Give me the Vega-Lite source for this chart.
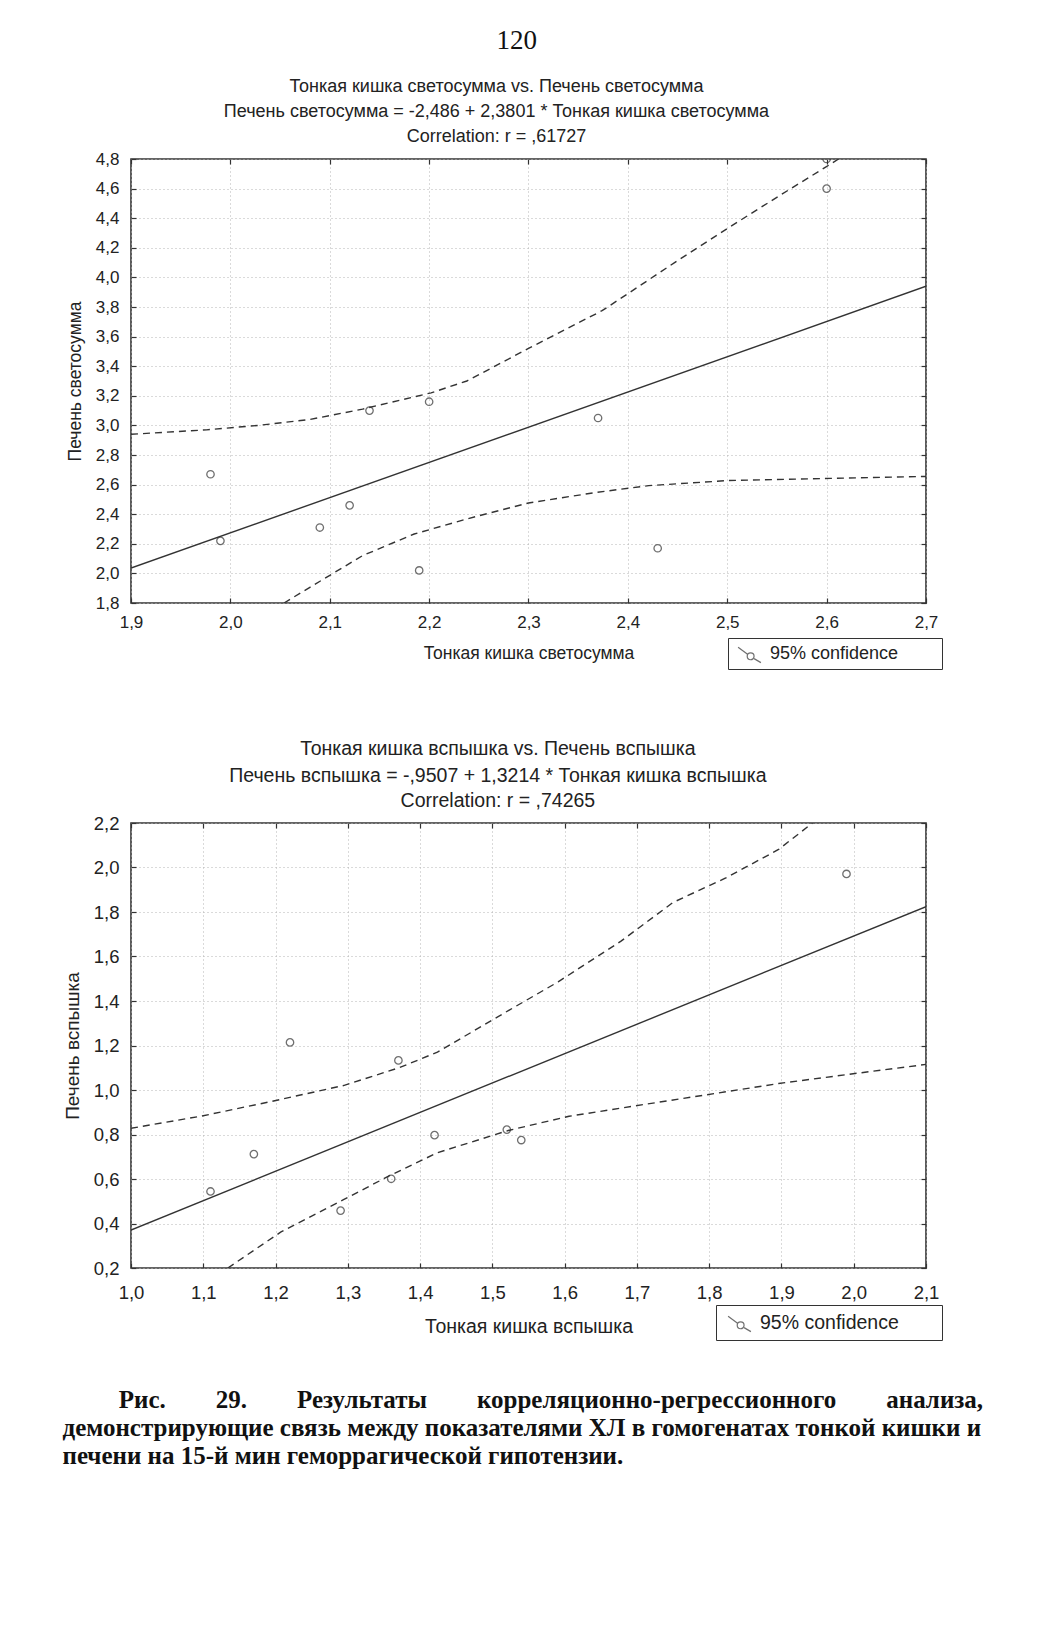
{
  "$schema": "https://vega.github.io/schema/vega-lite/v6.json",
  "background": "white",
  "padding": {"left": 62, "top": 26, "right": 10, "bottom": 10},
  "datasets": {
    "pts1": [
      {"x": 1.98, "y": 2.67, "series": "95% confidence"},
      {"x": 1.99, "y": 2.22, "series": "95% confidence"},
      {"x": 2.09, "y": 2.31, "series": "95% confidence"},
      {"x": 2.12, "y": 2.46, "series": "95% confidence"},
      {"x": 2.14, "y": 3.10, "series": "95% confidence"},
      {"x": 2.19, "y": 2.02, "series": "95% confidence"},
      {"x": 2.20, "y": 3.16, "series": "95% confidence"},
      {"x": 2.37, "y": 3.05, "series": "95% confidence"},
      {"x": 2.43, "y": 2.17, "series": "95% confidence"},
      {"x": 2.60, "y": 4.60, "series": "95% confidence"},
      {"x": 2.60, "y": 4.80, "series": "95% confidence"}
    ],
    "line1": [
      {"x": 1.9, "y": 2.036},
      {"x": 2.7, "y": 3.940}
    ],
    "band1": [
      {"band": "upper", "x": 1.9, "y": 2.94},
      {"band": "upper", "x": 1.976, "y": 2.97},
      {"band": "upper", "x": 2.028, "y": 3.0},
      {"band": "upper", "x": 2.08, "y": 3.04},
      {"band": "upper", "x": 2.133, "y": 3.11},
      {"band": "upper", "x": 2.202, "y": 3.22},
      {"band": "upper", "x": 2.238, "y": 3.30},
      {"band": "upper", "x": 2.30, "y": 3.52},
      {"band": "upper", "x": 2.374, "y": 3.775},
      {"band": "upper", "x": 2.40, "y": 3.89},
      {"band": "upper", "x": 2.447, "y": 4.10},
      {"band": "upper", "x": 2.50, "y": 4.33},
      {"band": "upper", "x": 2.552, "y": 4.55},
      {"band": "upper", "x": 2.599, "y": 4.745},
      {"band": "upper", "x": 2.612, "y": 4.80},
      {"band": "lower", "x": 2.054, "y": 1.80},
      {"band": "lower", "x": 2.08, "y": 1.906},
      {"band": "lower", "x": 2.133, "y": 2.12},
      {"band": "lower", "x": 2.185, "y": 2.266},
      {"band": "lower", "x": 2.238, "y": 2.368},
      {"band": "lower", "x": 2.30, "y": 2.476},
      {"band": "lower", "x": 2.369, "y": 2.548},
      {"band": "lower", "x": 2.421, "y": 2.593},
      {"band": "lower", "x": 2.50, "y": 2.627},
      {"band": "lower", "x": 2.604, "y": 2.642},
      {"band": "lower", "x": 2.70, "y": 2.655}
    ],
    "pts2": [
      {"x": 1.11, "y": 0.544, "series": "95% confidence"},
      {"x": 1.17, "y": 0.712, "series": "95% confidence"},
      {"x": 1.22, "y": 1.214, "series": "95% confidence"},
      {"x": 1.29, "y": 0.458, "series": "95% confidence"},
      {"x": 1.36, "y": 0.601, "series": "95% confidence"},
      {"x": 1.37, "y": 1.133, "series": "95% confidence"},
      {"x": 1.42, "y": 0.797, "series": "95% confidence"},
      {"x": 1.52, "y": 0.822, "series": "95% confidence"},
      {"x": 1.54, "y": 0.775, "series": "95% confidence"},
      {"x": 1.99, "y": 1.971, "series": "95% confidence"}
    ],
    "line2": [
      {"x": 1.0, "y": 0.3707},
      {"x": 2.1, "y": 1.824}
    ],
    "band2": [
      {"band": "upper", "x": 1.0, "y": 0.828},
      {"band": "upper", "x": 1.098, "y": 0.883},
      {"band": "upper", "x": 1.192, "y": 0.947},
      {"band": "upper", "x": 1.294, "y": 1.020},
      {"band": "upper", "x": 1.371, "y": 1.10},
      {"band": "upper", "x": 1.424, "y": 1.17},
      {"band": "upper", "x": 1.518, "y": 1.349},
      {"band": "upper", "x": 1.591, "y": 1.486},
      {"band": "upper", "x": 1.678, "y": 1.669},
      {"band": "upper", "x": 1.75, "y": 1.843},
      {"band": "upper", "x": 1.823, "y": 1.953},
      {"band": "upper", "x": 1.896, "y": 2.081},
      {"band": "upper", "x": 1.943, "y": 2.2},
      {"band": "lower", "x": 1.134, "y": 0.2},
      {"band": "lower", "x": 1.207, "y": 0.361},
      {"band": "lower", "x": 1.294, "y": 0.507},
      {"band": "lower", "x": 1.359, "y": 0.617},
      {"band": "lower", "x": 1.424, "y": 0.718},
      {"band": "lower", "x": 1.522, "y": 0.818},
      {"band": "lower", "x": 1.606, "y": 0.882},
      {"band": "lower", "x": 1.714, "y": 0.937},
      {"band": "lower", "x": 1.823, "y": 0.992},
      {"band": "lower", "x": 1.896, "y": 1.029},
      {"band": "lower", "x": 2.004, "y": 1.075},
      {"band": "lower", "x": 2.1, "y": 1.115}
    ]
  },
  "config": {
    "font": "Liberation Sans",
    "view": {"stroke": "#333", "strokeWidth": 1.6},
    "axis": {
      "domain": false,
      "grid": true,
      "gridColor": "#b4b4b4",
      "gridDash": [1, 3],
      "gridWidth": 1,
      "tickColor": "#333",
      "tickSize": -5,
      "tickWidth": 1.2,
      "labelFlush": false,
      "labelFont": "Liberation Sans",
      "labelFontSize": 17,
      "labelColor": "#222",
      "titleFont": "Liberation Sans",
      "titleFontSize": 17.5,
      "titleFontWeight": "normal",
      "titleColor": "#222",
      "format": ".1f",
      "labelExpr": "replace(datum.label, '.', ',')"
    },
    "axisX": {"labelPadding": 16, "titlePadding": 14},
    "axisY": {"labelPadding": 17, "titlePadding": 11},
    "legend": {
      "labelFont": "Liberation Sans",
      "labelFontSize": 18,
      "labelColor": "#222",
      "labelLimit": 400,
      "strokeColor": "#333",
      "fillColor": "white",
      "symbolType": "M-1,-0.55L-0.2,0.05M0.4,0.45L1,0.8M-0.2,0.25A0.3,0.3 0 1,0 0.4,0.25A0.3,0.3 0 1,0 -0.2,0.25",
      "symbolSize": 520,
      "symbolStrokeWidth": 1.2,
      "symbolFillColor": "transparent",
      "symbolStrokeColor": "#333",
      "symbolOffset": 6,
      "labelOffset": 8
    }
  },
  "title": {
    "text": [
      "\u200b\u00a0\u00a0\u00a0\u00a0\u00a0\u00a0\u00a0\u00a0\u00a0Рис.\u00a0\u00a0\u00a0\u00a0\u00a0\u00a0\u00a0\u00a029.\u00a0\u00a0\u00a0\u00a0\u00a0\u00a0\u00a0\u00a0Результаты\u00a0\u00a0\u00a0\u00a0\u00a0\u00a0\u00a0\u00a0корреляционно-регрессионного\u00a0\u00a0\u00a0\u00a0\u00a0\u00a0\u00a0\u00a0анализа,",
      "демонстрирующие связь между показателями ХЛ в гомогенатах тонкой кишки и",
      "печени на 15-й мин геморрагической гипотензии."
    ],
    "orient": "bottom",
    "anchor": "start",
    "frame": "bounds",
    "font": "Liberation Serif",
    "fontSize": 25,
    "fontWeight": "bold",
    "lineHeight": 28,
    "offset": 47,
    "color": "#111"
  },
  "spacing": 67,
  "resolve": {"scale": {"stroke": "independent"}, "legend": {"stroke": "independent"}},
  "vconcat": [
    {
      "width": 795,
      "height": 444,
      "title": {
        "text": "\u200b\u00a0\u00a0\u00a0\u00a0\u00a0\u00a0120",
        "subtitle": [
          "Тонкая кишка светосумма vs. Печень светосумма",
          "Печень светосумма = -2,486 + 2,3801 * Тонкая кишка светосумма",
          "Correlation: r = ,61727"
        ],
        "font": "Liberation Serif",
        "fontSize": 27,
        "fontWeight": "normal",
        "color": "#111",
        "subtitleFont": "Liberation Sans",
        "subtitleFontSize": 18,
        "subtitleColor": "#222",
        "subtitleLineHeight": 25,
        "subtitlePadding": 23,
        "anchor": "middle",
        "frame": "bounds",
        "dx": -8,
        "offset": 3
      },
      "resolve": {"axis": {"x": "independent", "y": "independent"}},
      "layer": [
        {
          "data": {"name": "band1"},
          "mark": {"type": "line", "color": "#333", "strokeWidth": 1.4, "strokeDash": [7, 5], "clip": true},
          "encoding": {
            "x": {"field": "x", "type": "quantitative", "scale": {"domain": [1.9, 2.7], "nice": false, "zero": false},
                  "axis": {"orient": "bottom", "values": [1.9, 2.0, 2.1, 2.2, 2.3, 2.4, 2.5, 2.6, 2.7], "title": "Тонкая кишка светосумма"}},
            "y": {"field": "y", "type": "quantitative", "scale": {"domain": [1.8, 4.8], "nice": false, "zero": false},
                  "axis": {"orient": "left", "values": [1.8, 2.0, 2.2, 2.4, 2.6, 2.8, 3.0, 3.2, 3.4, 3.6, 3.8, 4.0, 4.2, 4.4, 4.6, 4.8], "title": "Печень светосумма"}},
            "detail": {"field": "band", "type": "nominal"}
          }
        },
        {
          "data": {"name": "line1"},
          "mark": {"type": "line", "color": "#333", "strokeWidth": 1.4, "clip": true},
          "encoding": {
            "x": {"field": "x", "type": "quantitative",
                  "axis": {"orient": "top", "values": [1.9, 2.0, 2.1, 2.2, 2.3, 2.4, 2.5, 2.6, 2.7], "labels": false, "grid": false, "title": null}},
            "y": {"field": "y", "type": "quantitative",
                  "axis": {"orient": "right", "values": [1.8, 2.0, 2.2, 2.4, 2.6, 2.8, 3.0, 3.2, 3.4, 3.6, 3.8, 4.0, 4.2, 4.4, 4.6, 4.8], "labels": false, "grid": false, "title": null}}
          }
        },
        {
          "data": {"name": "pts1"},
          "mark": {"type": "point", "shape": "circle", "filled": false, "size": 55, "strokeWidth": 1.3, "clip": true},
          "encoding": {
            "x": {"field": "x", "type": "quantitative", "axis": null},
            "y": {"field": "y", "type": "quantitative", "axis": null},
            "stroke": {"field": "series", "type": "nominal", "scale": {"range": ["#333"]},
                       "legend": {"title": null, "orient": "none", "legendX": 597, "legendY": 479, "padding": 3,
                                  "labelExpr": "datum.label + '\u00a0\u00a0\u00a0\u00a0\u00a0\u00a0\u00a0\u00a0\u200b'"}}
          }
        }
      ]
    },
    {
      "width": 795,
      "height": 445,
      "title": {
        "text": "Тонкая кишка вспышка vs. Печень вспышка",
        "subtitle": [
          "Печень вспышка = -,9507 + 1,3214 * Тонкая кишка вспышка",
          "Correlation: r = ,74265"
        ],
        "font": "Liberation Sans",
        "fontSize": 19.5,
        "fontWeight": "normal",
        "color": "#222",
        "subtitleFont": "Liberation Sans",
        "subtitleFontSize": 19.5,
        "subtitleColor": "#222",
        "subtitleLineHeight": 25,
        "subtitlePadding": 7,
        "anchor": "middle",
        "frame": "bounds",
        "dx": -5,
        "offset": 3
      },
      "resolve": {"axis": {"x": "independent", "y": "independent"}},
      "layer": [
        {
          "data": {"name": "band2"},
          "mark": {"type": "line", "color": "#333", "strokeWidth": 1.4, "strokeDash": [7, 5], "clip": true},
          "encoding": {
            "x": {"field": "x", "type": "quantitative", "scale": {"domain": [1.0, 2.1], "nice": false, "zero": false},
                  "axis": {"orient": "bottom", "labelFontSize": 18.5, "titleFontSize": 19.5, "labelPadding": 20, "titlePadding": 16, "values": [1.0, 1.1, 1.2, 1.3, 1.4, 1.5, 1.6, 1.7, 1.8, 1.9, 2.0, 2.1], "title": "Тонкая кишка вспышка"}},
            "y": {"field": "y", "type": "quantitative", "scale": {"domain": [0.2, 2.2], "nice": false, "zero": false},
                  "axis": {"orient": "left", "labelFontSize": 18.5, "titleFontSize": 19, "values": [0.2, 0.4, 0.6, 0.8, 1.0, 1.2, 1.4, 1.6, 1.8, 2.0, 2.2], "title": "Печень вспышка"}},
            "detail": {"field": "band", "type": "nominal"}
          }
        },
        {
          "data": {"name": "line2"},
          "mark": {"type": "line", "color": "#333", "strokeWidth": 1.4, "clip": true},
          "encoding": {
            "x": {"field": "x", "type": "quantitative",
                  "axis": {"orient": "top", "values": [1.0, 1.1, 1.2, 1.3, 1.4, 1.5, 1.6, 1.7, 1.8, 1.9, 2.0, 2.1], "labels": false, "grid": false, "title": null}},
            "y": {"field": "y", "type": "quantitative",
                  "axis": {"orient": "right", "values": [0.2, 0.4, 0.6, 0.8, 1.0, 1.2, 1.4, 1.6, 1.8, 2.0, 2.2], "labels": false, "grid": false, "title": null}}
          }
        },
        {
          "data": {"name": "pts2"},
          "mark": {"type": "point", "shape": "circle", "filled": false, "size": 55, "strokeWidth": 1.3, "clip": true},
          "encoding": {
            "x": {"field": "x", "type": "quantitative", "axis": null},
            "y": {"field": "y", "type": "quantitative", "axis": null},
            "stroke": {"field": "series", "type": "nominal", "scale": {"range": ["#333"]},
                       "legend": {"title": null, "orient": "none", "legendX": 585, "legendY": 482, "padding": 5, "labelFontSize": 19.5,
                                  "labelExpr": "datum.label + '\u00a0\u00a0\u00a0\u00a0\u00a0\u00a0\u00a0\u200b'"}}
          }
        }
      ]
    }
  ]
}
